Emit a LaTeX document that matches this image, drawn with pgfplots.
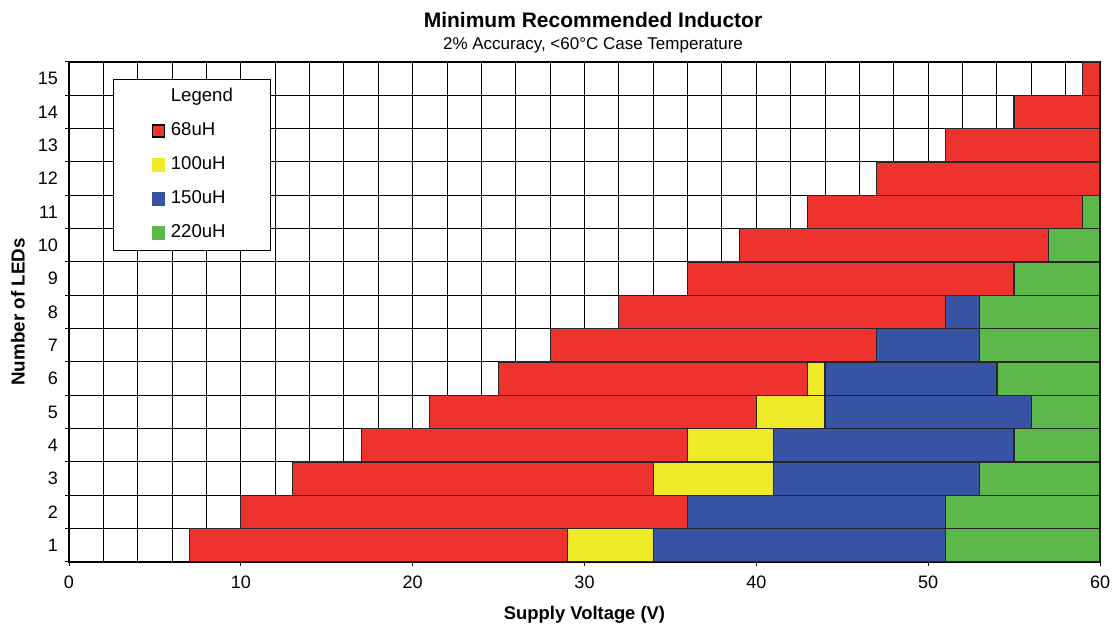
\documentclass[border=0pt]{standalone}
\usepackage{fontspec}
\setmainfont{Liberation Sans}
\usepackage{pgfplots}
\usepackage{pgfplotstable}
\pgfplotsset{compat=1.18}
\definecolor{cred}{RGB}{238,50,45}
\definecolor{cyel}{RGB}{238,234,40}
\definecolor{cblue}{RGB}{56,82,164}
\definecolor{cgreen}{RGB}{92,184,72}

\pgfplotstableread{
row start red yellow blue green
1  7  22 5 17 9
2  10 26 0 15 9
3  13 21 7 12 7
4  17 19 5 14 5
5  21 19 4 12 4
6  25 18 1 10 6
7  28 19 0 6  7
8  32 19 0 2  7
9  36 19 0 0  5
10 39 18 0 0  3
11 43 16 0 0  1
12 47 13 0 0  0
13 51 9  0 0  0
14 55 5  0 0  0
15 59 1  0 0  0
}\data

\begin{document}
\begin{tikzpicture}
\path[use as bounding box] (-34.5pt,-31.5pt) rectangle (521.5pt,281pt);
\begin{axis}[
  at={(0,0)}, anchor=south west,
  scale only axis, width=515.5pt, height=250pt,
  xbar stacked, bar width=1, bar shift=0pt,
  xmin=0, xmax=60, ymin=0.5, ymax=15.5,
  xtick={0,10,...,60}, minor x tick num=4,
  ytick={1,2,...,15},
  minor ytick={0.5,1.5,...,15.5},
  xmajorgrids, xminorgrids, yminorgrids,
  grid style={black, line width=0.5pt},
  minor grid style={black, line width=0.5pt},
  major grid style={black, line width=0.5pt},
  tick align=outside, xtick pos=left, ytick pos=left,
  major tick length=2pt, minor tick length=2pt,
  every minor x tick/.append style={draw=none},
  every major y tick/.append style={draw=none},
  axis line style={black, line width=0.6pt},
  tick style={black, line width=0.5pt},
  ticklabel style={font=\fontsize{9}{10}\selectfont},
  xticklabel style={anchor=base, yshift=-11.5pt},
  /pgf/number format/assume math mode=true,
  xlabel={Supply Voltage (V)},
  ylabel={Number of LEDs},
  xlabel style={font=\bfseries\fontsize{9.2}{10}\selectfont, at={(axis description cs:0.5,-0.116)}, anchor=base},
  ylabel style={font=\bfseries\fontsize{9.4}{10}\selectfont, at={(axis description cs:-0.0495,0.5)}, anchor=center},
  legend cell align=left,
  legend style={at={(0.0427,0.966)}, anchor=north west, draw=black, line width=0.6pt,
    fill=white, inner xsep=19pt, inner ysep=4.5pt, row sep=8.5pt, column sep=3pt,
    font=\fontsize{9.3}{11}\selectfont,
    nodes={inner sep=0pt, text height=6.5pt, text depth=2pt}},
]
\addlegendimage{empty legend}
\addlegendentry{Legend}
\addplot[draw=none, fill=none, forget plot] table[x=start, y=row] {\data};
\addplot[fill=cred, draw=black!85, line width=0.6pt,
  legend image code/.code={\draw[fill=cred, draw=black, line width=0.6pt] (0pt,-3pt) rectangle (6pt,3pt);}]
  table[x=red, y=row] {\data};
\addlegendentry{68uH}
\addplot[fill=cyel, draw=black!85, line width=0.6pt,
  legend image code/.code={\fill[cyel] (0pt,-3pt) rectangle (6pt,3pt);}]
  table[x=yellow, y=row] {\data};
\addlegendentry{100uH}
\addplot[fill=cblue, draw=black!85, line width=0.6pt,
  legend image code/.code={\fill[cblue] (0pt,-3pt) rectangle (6pt,3pt);}]
  table[x=blue, y=row] {\data};
\addlegendentry{150uH}
\addplot[fill=cgreen, draw=black!85, line width=0.6pt,
  legend image code/.code={\fill[cgreen] (0pt,-3pt) rectangle (6pt,3pt);}]
  table[x=green, y=row] {\data};
\addlegendentry{220uH}
\end{axis}
\node[anchor=base, font=\bfseries\fontsize{10.5}{12}\selectfont] at (262pt,267pt) {Minimum Recommended Inductor};
\node[anchor=base, font=\fontsize{8.5}{10}\selectfont] at (262pt,256pt) {2\% Accuracy, <60°C Case Temperature};
\end{tikzpicture}
\end{document}
